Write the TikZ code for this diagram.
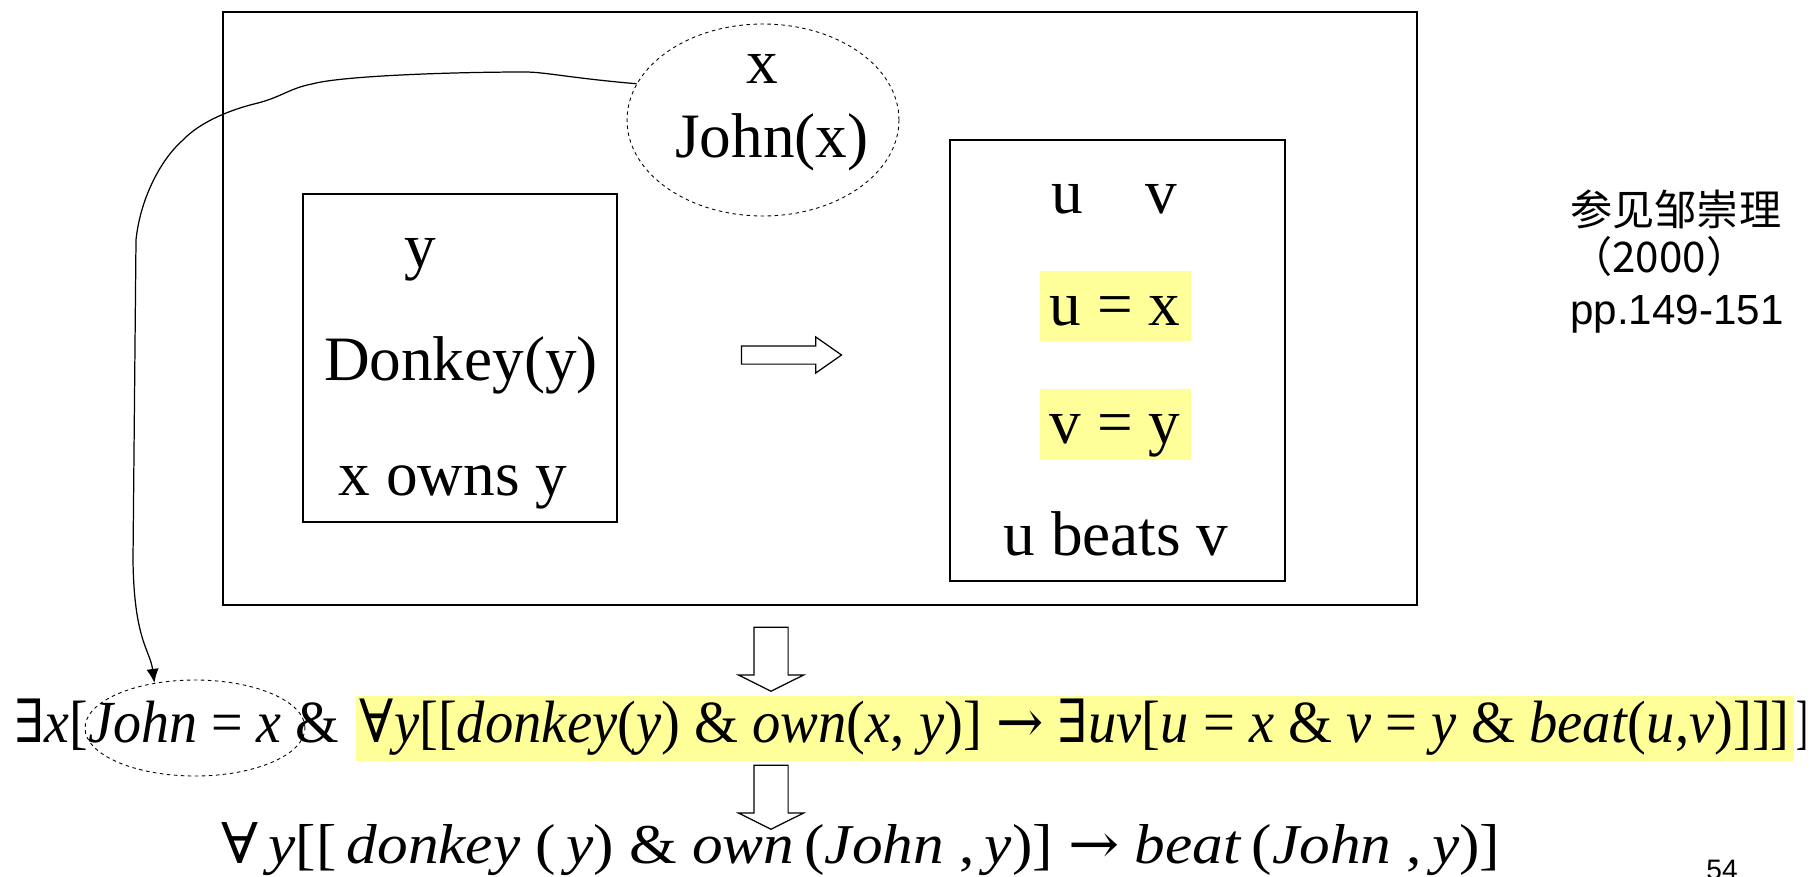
\documentclass[tikz,border=0pt]{standalone}
\usepackage{fontspec}
\setmainfont{Liberation Serif}
\newfontfamily\cjk{Noto Sans CJK SC}
\newfontfamily\arial{Liberation Sans}
\newfontfamily\sym{DejaVu Serif}
\usetikzlibrary{positioning}
\usetikzlibrary{shapes.geometric,shapes.arrows}
\usetikzlibrary{arrows.meta}
\definecolor{hilite}{RGB}{255,255,153}
\newcommand{\vi}[1]{\textit{#1}}
\newcommand{\squeeze}[2]{\resizebox{#1}{\height}{#2}}

\tikzset{
   frame/.style={draw, line width=0.6pt},
   txt/.style={font=\fontsize{36}{42}\selectfont, inner sep=0pt, anchor=base},
   dashell/.style={ellipse, draw, dash pattern=on 2pt off 2pt, line width=0.5pt, inner sep=0pt},
   hl/.style={fill=hilite, font=\fontsize{36}{42}\selectfont, inner sep=0pt,
      minimum width=3.02cm, minimum height=1.42cm, text height=0.9cm, text depth=0.12cm},
   rarrow/.style={single arrow, draw, fill=white, line width=0.7pt, inner xsep=0pt,
      inner ysep=0.17cm, minimum height=2cm, single arrow head extend=0.18cm,
      single arrow tip angle=70},
   darrow/.style={single arrow, draw, fill=white, line width=0.7pt, rotate=-90,
      inner xsep=0pt, inner ysep=0.33cm, minimum height=1.28cm,
      single arrow head extend=0.31cm, single arrow tip angle=127},
   form/.style={font=\fontsize{34}{40}\selectfont, inner sep=0pt, anchor=base west},
   cjkt/.style={font=\cjk\fontsize{24}{28}\selectfont, inner sep=0pt, anchor=base west},
   link/.style={-{Latex[length=8pt,width=7pt]}, line width=0.7pt},
}

\begin{document}
\begin{tikzpicture}[x=0.02cm, y=-0.02cm]
   \path[fill=white, use as bounding box] (0,0) rectangle (1815,876);

   % main DRS
   \draw[frame] (223,12) rectangle (1417,605);
   \node[dashell, minimum width=5.44cm, minimum height=3.84cm] (ell0) at (763,120) {};
   \node[txt] (x0)   at (762,83)  {x};
   \node[txt] (john) at (772,157) {John(x)};

   % antecedent box
   \draw[frame] (303,194) rectangle (617,522);
   \node[txt] (y0)     at (420,267) {y};
   \node[txt] (donkey) at (461,380) {Donkey(y)};
   \node[txt] (owns)   at (453,495) {x owns y};

   \node[rarrow] (imp) at (785,355) {};

   % consequent box
   \draw[frame] (950,140) rectangle (1285,581);
   \node[txt] (u0) at (1067,213) {u};
   \node[txt] (v0) at (1161,213) {v};
   \node[hl]  (ux) at (1115,306) {u = x};
   \node[hl]  (vy) at (1115,424) {v = y};
   \node[txt] (beats) at (1116,555) {u beats v};

   % source
   \node[cjkt] (ref1) at (1570,225) {参见邹崇理};
   \node[cjkt, below=0.96cm of ref1.base west, anchor=base west] (ref2) {（2000）};
   \node[cjkt, font=\arial\fontsize{24}{28}\selectfont,
      below=1.04cm of ref2.base west, anchor=base west] (ref3) {pp.149-151};

   % translation
   \node[darrow] (dn1) at (771,655) {};
   \node[form] (f1a) at (14,742) {\squeeze{6.5cm}{{\sym ∃}\vi{x}[\vi{John} = \vi{x} \&}};
   \node[form, fill=hilite, inner xsep=0.08cm, text height=0.92cm, text depth=0.38cm,
      right=0.32cm of f1a.base east, anchor=base west] (f1b)
      {\squeeze{28.6cm}{{\sym ∀}\vi{y}[[\vi{donkey}(\vi{y}) \& \vi{own}(\vi{x}, \vi{y})]
      {\sym →} {\sym ∃}\vi{uv}[\vi{u} = \vi{x} \& \vi{v} = \vi{y} \& \vi{beat}(\vi{u},\vi{v})]]]}};
   \node[form, right=0.04cm of f1b.base east, anchor=base west] (f1c) {\squeeze{0.24cm}{]}};
   \node[dashell, minimum width=4.4cm, minimum height=1.92cm] (ell1) at (195,728) {};

   \node[darrow] (dn2) at (771,793) {};
   \node[form, font=\fontsize{32}{38}\selectfont] (f2) at (221,863)
      {\squeeze{25.58cm}{{\sym ∀}\,\vi{y}[[\,\vi{donkey}\ (\,\vi{y}) \& \vi{own}\,(\vi{John}\ ,\,\vi{y})]
      {\sym →} \vi{beat}\,(\vi{John}\ ,\,\vi{y})]}};

   \node[font=\arial\fontsize{16}{19}\selectfont, inner sep=0pt, anchor=base] (pg) at (1722,879) {54};

   % binding of x to John
   \draw[link] (ell0.164) .. controls (570,78) and (545,72) .. (525,72)
      .. controls (450,72) and (340,76) .. (312,84)
      .. controls (290,88) and (280,98) .. (254,104)
      .. controls (230,110) and (200,122) .. (183,140)
      .. controls (160,160) and (140,200) .. (136,240)
      -- (133,560)
      .. controls (134,640) and (150,650) .. (ell1.132);
\end{tikzpicture}
\end{document}
